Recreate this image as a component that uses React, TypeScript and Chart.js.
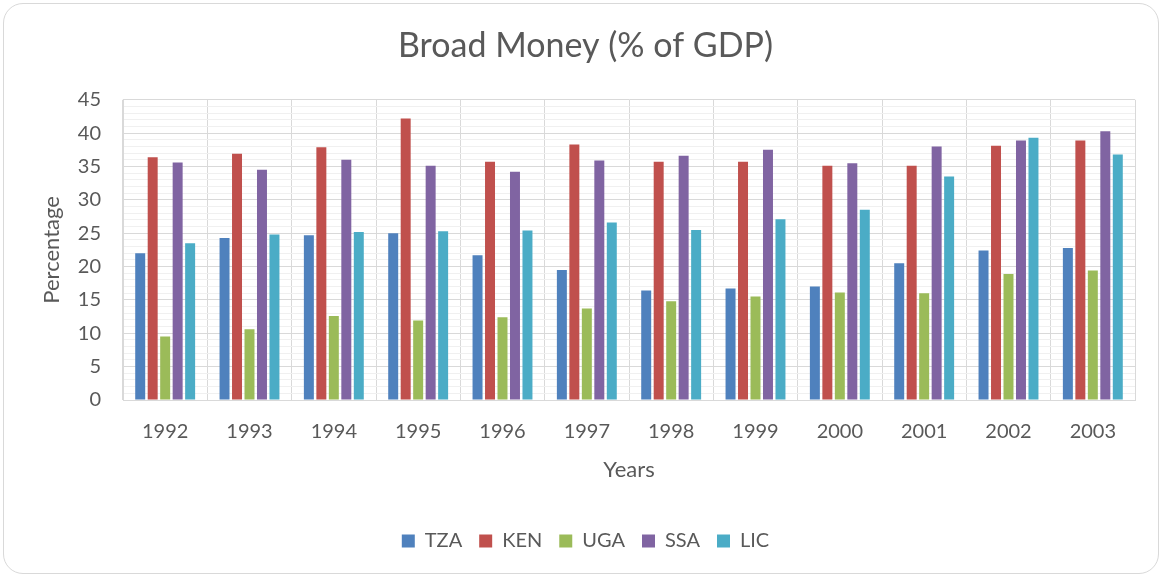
import React, { useEffect, useRef } from "react";
import { Chart, registerables } from "chart.js";

Chart.register(...registerables);

const years = ["1992", "1993", "1994", "1995", "1996", "1997", "1998", "1999", "2000", "2001", "2002", "2003"];
const tza = [22.0, 24.3, 24.7, 25.0, 21.7, 19.5, 16.4, 16.7, 17.0, 20.5, 22.4, 22.8];
const ken = [36.4, 36.9, 37.9, 42.2, 35.7, 38.3, 35.7, 35.7, 35.1, 35.1, 38.1, 38.9];
const uga = [9.5, 10.6, 12.6, 11.9, 12.4, 13.7, 14.8, 15.5, 16.1, 16.0, 18.9, 19.4];
const ssa = [35.6, 34.5, 36.0, 35.1, 34.2, 35.9, 36.6, 37.5, 35.5, 38.0, 38.9, 40.3];
const lic = [23.5, 24.8, 25.2, 25.3, 25.4, 26.6, 25.5, 27.1, 28.5, 33.5, 39.3, 36.8];
const seriesNames = ["TZA", "KEN", "UGA", "SSA", "LIC"];
const seriesColors = ["#4F81BD", "#C0504D", "#9BBB59", "#8064A2", "#4BACC6"];

const FONT = "Lato, 'Open Sans', sans-serif";
const TEXT = "#595959";

export default function App() {
  const ref = useRef<HTMLCanvasElement | null>(null);
  useEffect(() => {
    if (!ref.current) return;
    const values = [tza, ken, uga, ssa, lic];
    const chart = new Chart(ref.current, {
      type: "bar",
      data: {
        labels: years,
        datasets: seriesNames.map((n, i) => ({
          label: n,
          data: values[i],
          backgroundColor: seriesColors[i],
          borderWidth: 0,
          barPercentage: 0.8,
          categoryPercentage: 0.74,
        })),
      },
      options: {
        responsive: false,
        animation: false,
        layout: { padding: { left: 36, right: 29, top: 17, bottom: 18 } },
        plugins: {
          title: {
            display: true,
            text: "Broad Money (% of GDP)",
            color: TEXT,
            font: { family: FONT, size: 34, weight: "normal", lineHeight: 1.2 },
            padding: { top: 9, bottom: 33 },
          },
          legend: {
            position: "bottom",
            labels: {
              color: TEXT,
              font: { family: FONT, size: 20 },
              boxWidth: 13,
              boxHeight: 13,
              padding: 17,
            },
          },
          tooltip: { enabled: false },
        },
        scales: {
          x: {
            grid: { display: true, offset: true, color: "#d9d9d9", drawTicks: false },
            border: { display: true, color: "#d9d9d9" },
            ticks: { color: TEXT, font: { family: FONT, size: 20 }, padding: 20 },
            title: {
              display: true,
              text: "Years",
              color: TEXT,
              font: { family: FONT, size: 22, lineHeight: 1.2 },
              padding: { top: 0, bottom: 31 },
            },
            afterFit: (scale: any) => {
              scale.height = 114;
            },
          },
          y: {
            min: 0,
            max: 45,
            grid: {
              drawTicks: false,
              color: (ctx: any) => (ctx.tick && ctx.tick.value % 5 === 0 ? "#d9d9d9" : "#f0f0f0"),
            },
            border: { display: true, color: "#d9d9d9" },
            ticks: {
              stepSize: 1,
              autoSkip: false,
              color: TEXT,
              font: { family: FONT, size: 20 },
              padding: 22,
              callback: (v: any) => (Number(v) % 5 === 0 ? String(v) : ""),
            },
            title: {
              display: true,
              text: "Percentage",
              color: TEXT,
              font: { family: FONT, size: 22, lineHeight: 1.2 },
              padding: { top: 3, bottom: 0 },
            },
            afterFit: (scale: any) => {
              scale.width = 87;
            },
          },
        },
      },
    });
    return () => chart.destroy();
  }, []);
  return (
    <div style={{ position: "fixed", left: 0, top: 0, width: 1164, height: 579, background: "#fff" }}>
      <div
        style={{
          position: "absolute",
          left: 3,
          top: 3,
          width: 1156,
          height: 571,
          border: "1px solid #d9d9d9",
          borderRadius: 20,
          boxSizing: "border-box",
        }}
      />
      <canvas ref={ref} width={1164} height={579} style={{ position: "absolute", left: 0, top: 0 }} />
    </div>
  );
}
